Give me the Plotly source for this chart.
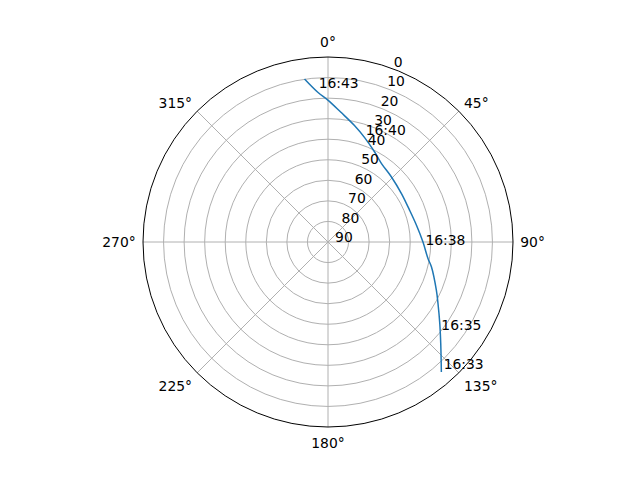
import plotly.graph_objects as go

# Satellite pass (azimuth deg, elevation deg), 16:33 -> 16:43
track_az = [138.9, 132.0, 126.1, 119.2, 114.0, 103.6, 99.4, 90.0, 79.3, 68.8,
            56.6, 44.3, 34.3, 27.4, 19.2, 12.8, 5.7, 0.2, 356.1, 351.8]
track_el = [6.1, 16.2, 22.7, 28.7, 32.3, 38.2, 40.7, 43.8, 46.2, 47.4,
            47.2, 45.8, 43.8, 40.7, 36.1, 31.9, 26.6, 21.2, 17.0, 9.9]

# time labels along the pass (where each label starts)
label_text = ["16:33", "16:35", "16:38", "16:40", "16:43"]
label_az = [137.0, 126.6, 90.0, 18.9, 356.6]
label_el = [7.5, 21.3, 42.6, 33.4, 13.1]

# axis ticks
az_ticks = [0, 45, 90, 135, 180, 225, 270, 315]
el_ticks = [90, 80, 70, 60, 50, 40, 30, 20, 10, 0]

font = dict(family="DejaVu Sans", size=13.9, color="black")

fig = go.Figure()
fig.add_trace(go.Scatterpolar(
    theta=track_az, r=[90 - e for e in track_el],
    mode="lines", line=dict(color="#1f77b4", width=1.5, shape="spline"),
    showlegend=False, hoverinfo="skip"))
fig.add_trace(go.Scatterpolar(
    theta=label_az, r=[90 - e for e in label_el],
    mode="text", text=label_text, textposition="middle right",
    textfont=font, showlegend=False, hoverinfo="skip"))

# page body has an 8px margin, so the domain is shifted by that
fig.update_layout(
    width=640, height=480,
    margin=dict(l=0, r=0, t=0, b=0),
    paper_bgcolor="white",
    font=font,
    polar=dict(
        domain=dict(x=[135 / 640, 505 / 640], y=[1 - 419 / 480, 1 - 49 / 480]),
        bgcolor="white",
        angularaxis=dict(
            rotation=90, direction="clockwise",
            tickvals=az_ticks, ticktext=[f"{a}°" for a in az_ticks],
            showgrid=True, gridcolor="#b0b0b0", gridwidth=0.8,
            showline=True, linecolor="black", linewidth=1,
            ticks="outside", ticklen=4, tickcolor="rgba(0,0,0,0)", tickfont=font),
        radialaxis=dict(
            range=[0, 90], angle=71.5,
            tickvals=[90 - e for e in el_ticks], ticktext=[f"{e}<br> " for e in el_ticks],
            showgrid=True, gridcolor="#b0b0b0", gridwidth=0.8,
            showline=False, ticks="", tickfont=font, tickangle=71.5),
    ),
)

fig.write_html("out.html")
